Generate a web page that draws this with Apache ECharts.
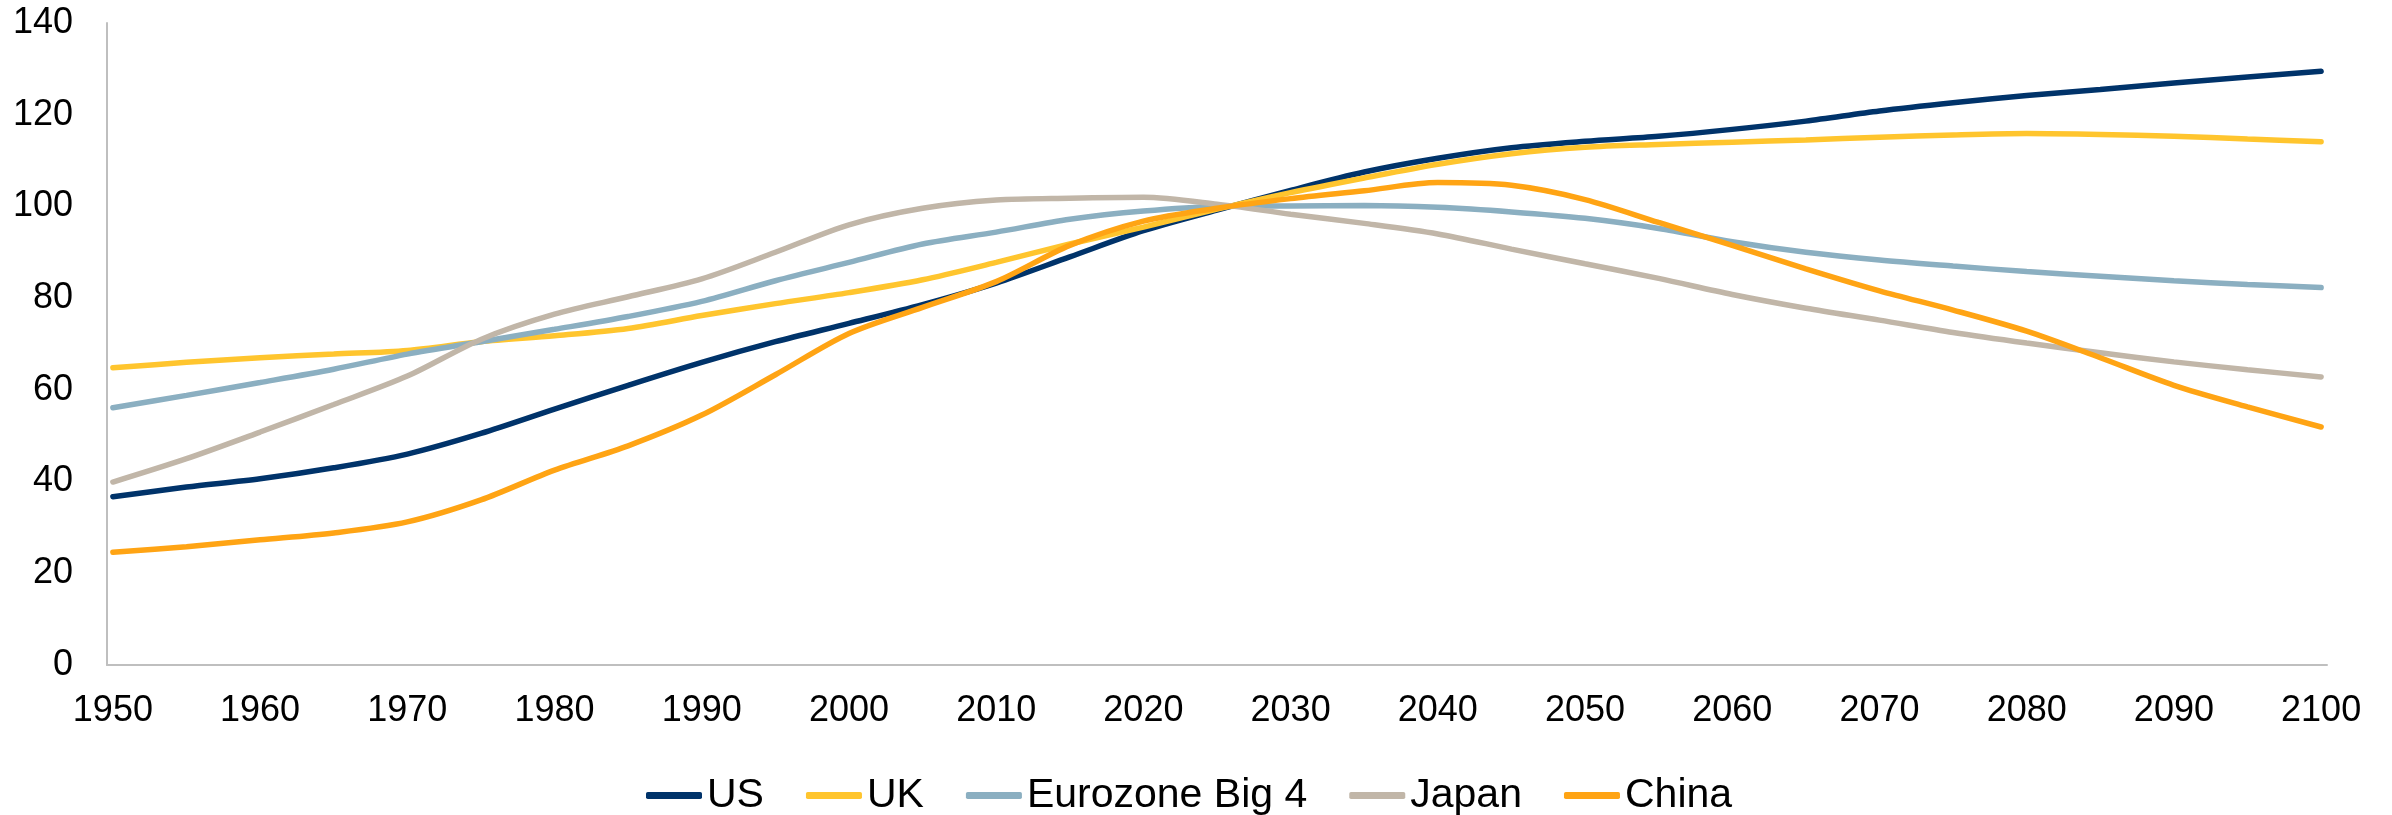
<!DOCTYPE html>
<html>
<head>
<meta charset="utf-8">
<script src="https://cdn.jsdelivr.net/npm/echarts@6/dist/echarts.min.js"></script>
<style>
html,body{margin:0;padding:0;background:#fff;}
#chart{width:2392px;height:815px;}
</style>
</head>
<body>
<div id="chart"></div>
<script>
const years = [1950,1955,1960,1965,1970,1975,1980,1985,1990,1995,2000,2005,2010,2015,2020,2025,2030,2035,2040,2045,2050,2055,2060,2065,2070,2075,2080,2085,2090,2095,2100];
const xTicks = [1950,1960,1970,1980,1990,2000,2010,2020,2030,2040,2050,2060,2070,2080,2090,2100];
const seriesNames = ['US','UK','Eurozone Big 4','Japan','China'];
const us = [36.7,38.8,40.6,43.0,46.0,50.5,55.8,61.0,66.0,70.5,74.5,78.6,83.3,89.0,94.7,99.2,103.5,107.5,110.5,112.8,114.2,115.3,116.8,118.6,120.8,122.6,124.2,125.5,126.9,128.2,129.5];
const uk = [64.8,66.0,67.0,67.8,68.6,70.5,71.8,73.4,76.2,78.8,81.2,84.0,87.8,91.8,95.5,99.4,103.0,106.2,109.2,111.5,112.9,113.5,114.0,114.5,115.1,115.6,115.9,115.7,115.3,114.7,114.1];
const euro = [56.1,58.8,61.6,64.5,67.8,70.5,73.2,76.0,79.3,83.8,87.8,91.8,94.4,97.2,99.0,100.0,100.1,100.2,99.8,98.8,97.4,95.2,92.3,90.0,88.3,87.0,85.8,84.8,83.8,83.0,82.3];
const japan = [39.9,45.0,50.8,56.8,63.0,71.0,76.5,80.3,84.2,90.0,96.0,99.6,101.4,101.8,102.0,100.5,98.3,96.3,94.0,90.7,87.5,84.3,80.8,77.8,75.2,72.5,70.2,68.1,66.1,64.4,62.8];
const china = [24.6,25.8,27.3,28.8,31.2,36.0,42.5,47.8,54.5,63.3,72.3,78.0,83.6,91.5,96.8,99.6,101.7,103.4,105.2,104.6,101.5,96.5,91.5,86.4,81.6,77.4,72.8,67.0,61.0,56.3,51.9];
const colors = ['#00336A','#FFC52E','#8BAFC1','#C1B6A8','#FFA414'];

const allValues = [us, uk, euro, japan, china];
const FONT = '"Liberation Sans", Arial, sans-serif';

const chart = echarts.init(document.getElementById('chart'), null, {renderer:'canvas'});
chart.setOption({
  animation: false,
  backgroundColor: '#fff',
  color: colors,
  grid: {left: 107, right: 65, top: 23, bottom: 150, containLabel: false},
  legend: {
    data: seriesNames,
    left: 646,
    top: 775,
    padding: 0,
    icon: 'roundRect',
    itemWidth: 56,
    itemHeight: 7,
    itemGap: 42,
    textStyle: {fontFamily: FONT, fontSize: 41, color: '#000'}
  },
  xAxis: {
    type: 'value',
    min: 1949.6,
    max: 2100.4,
    axisLine: {show: true, onZero: false, lineStyle: {color: '#BFBFBF', width: 2}},
    axisTick: {show: false},
    splitLine: {show: false},
    axisLabel: {
      customValues: xTicks,
      fontFamily: FONT, fontSize: 36, color: '#000', margin: 28,
      formatter: v => String(v)
    }
  },
  yAxis: {
    type: 'value',
    min: 0,
    max: 140,
    interval: 20,
    axisLine: {show: true, lineStyle: {color: '#BFBFBF', width: 2}},
    axisTick: {show: false},
    splitLine: {show: false},
    axisLabel: {fontFamily: FONT, fontSize: 36, color: '#000', margin: 34}
  },
  series: seriesNames.map((name, i) => ({
    name: name,
    type: 'line',
    smooth: 0.3,
    showSymbol: false,
    symbol: 'none',
    lineStyle: {width: 5.5, color: colors[i], cap: 'round'},
    itemStyle: {color: colors[i]},
    data: years.map((y, k) => [y, allValues[i][k]])
  }))
});
</script>
</body>
</html>
